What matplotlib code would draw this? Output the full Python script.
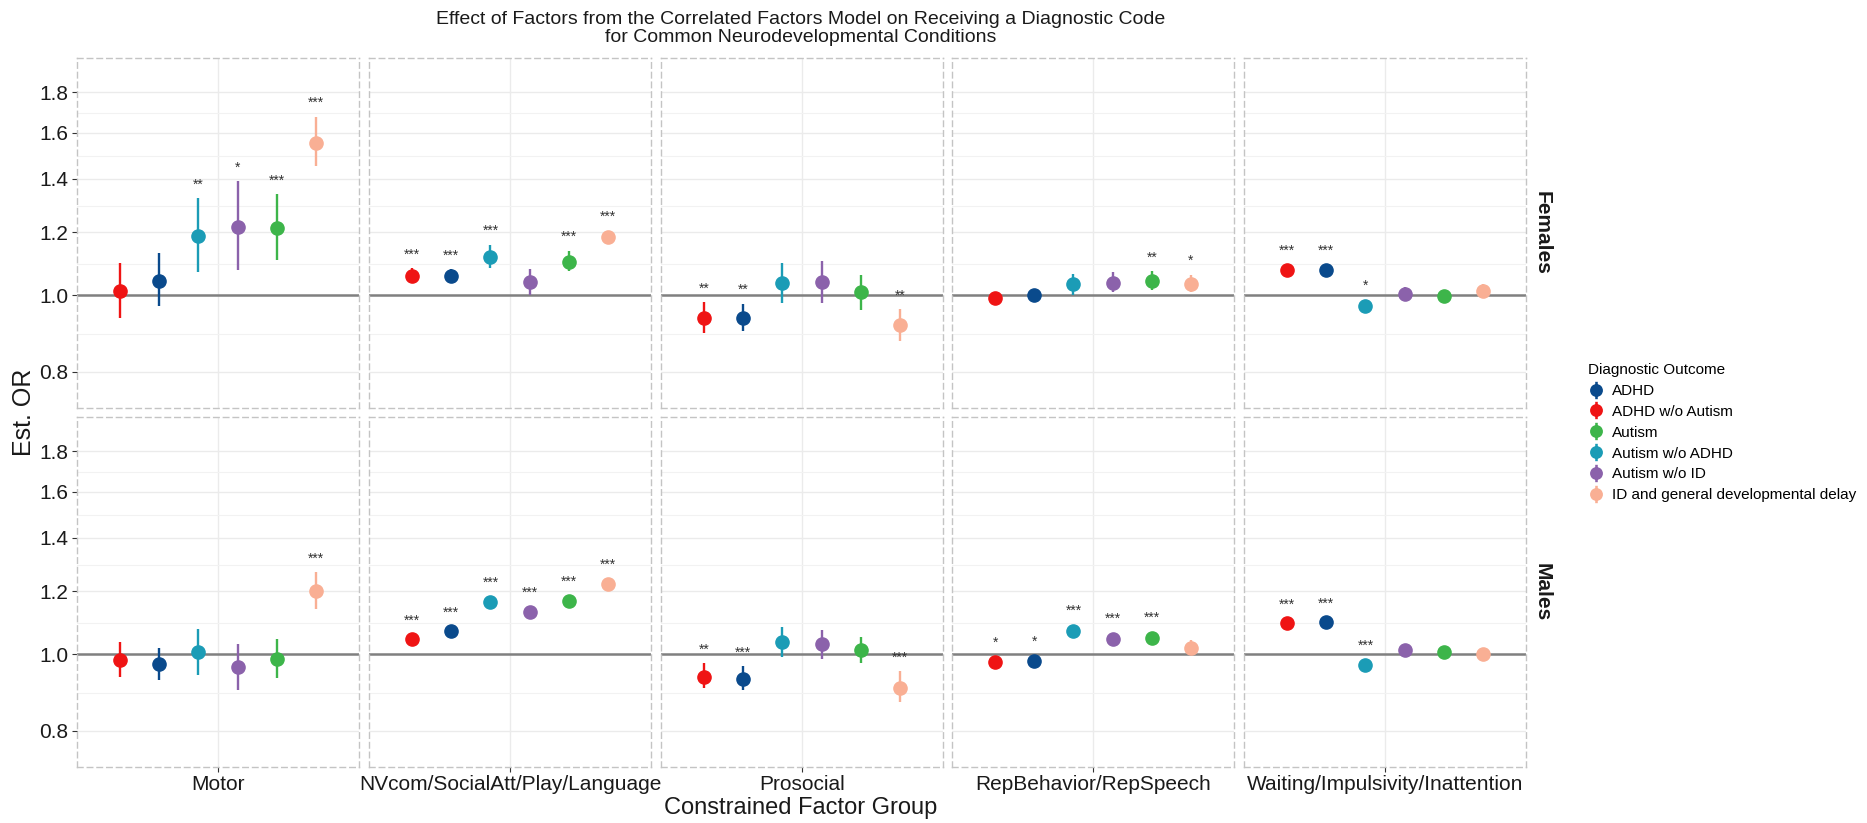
import matplotlib
matplotlib.use('Agg')
import matplotlib.pyplot as plt
from matplotlib.lines import Line2D
from matplotlib.path import Path
from matplotlib.ticker import NullFormatter
import numpy as np

plt.rcParams['font.family'] = ['Liberation Sans', 'DejaVu Sans']

# ---------------- data ----------------
factors = ['Motor', 'NVcom/SocialAtt/Play/Language', 'Prosocial',
           'RepBehavior/RepSpeech', 'Waiting/Impulsivity/Inattention']
sexes = ['Females', 'Males']
outcomes = ['ADHD', 'ADHD w/o Autism', 'Autism', 'Autism w/o ADHD',
            'Autism w/o ID', 'ID and general developmental delay']
# order in which the outcomes are dodged inside every panel
dodge_order = ['ADHD w/o Autism', 'ADHD', 'Autism w/o ADHD', 'Autism w/o ID',
               'Autism', 'ID and general developmental delay']

# rows = factors, columns = outcomes in dodge_order
females_est = [[1.011, 1.043, 1.187, 1.219, 1.216, 1.556],
               [1.056, 1.056, 1.117, 1.037, 1.100, 1.184],
               [0.936, 0.936, 1.034, 1.037, 1.008, 0.918],
               [0.990, 1.000, 1.032, 1.035, 1.043, 1.032],
               [1.074, 1.074, 0.968, 1.002, 0.996, 1.011]]
females_lo = [[0.936, 0.970, 1.068, 1.074, 1.107, 1.455],
              [1.038, 1.040, 1.081, 1.000, 1.071, 1.165],
              [0.896, 0.900, 0.977, 0.977, 0.957, 0.875],
              [0.975, 0.986, 1.000, 1.008, 1.015, 1.008],
              [1.058, 1.058, 0.950, 0.982, 0.982, 0.992]]
females_hi = [[1.097, 1.129, 1.323, 1.391, 1.340, 1.676],
              [1.080, 1.078, 1.157, 1.078, 1.137, 1.205],
              [0.979, 0.975, 1.097, 1.104, 1.060, 0.960],
              [1.006, 1.014, 1.064, 1.068, 1.071, 1.060],
              [1.092, 1.092, 0.987, 1.024, 1.011, 1.031]]
females_sig = [['', '', '**', '*', '***', '***'],
               ['***', '***', '***', '', '***', '***'],
               ['**', '**', '', '', '', '**'],
               ['', '', '', '', '**', '*'],
               ['***', '***', '*', '', '', '']]

males_est = [[0.982, 0.971, 1.006, 0.963, 0.986, 1.199],
             [1.044, 1.069, 1.162, 1.128, 1.167, 1.224],
             [0.936, 0.931, 1.034, 1.029, 1.011, 0.906],
             [0.978, 0.981, 1.070, 1.044, 1.047, 1.017],
             [1.094, 1.097, 0.970, 1.011, 1.006, 1.000]]
males_lo = [[0.935, 0.927, 0.942, 0.900, 0.932, 1.139],
            [1.030, 1.055, 1.145, 1.110, 1.150, 1.205],
            [0.906, 0.902, 0.991, 0.986, 0.974, 0.869],
            [0.965, 0.967, 1.053, 1.029, 1.030, 0.998],
            [1.080, 1.083, 0.955, 0.995, 0.992, 0.985]]
males_hi = [[1.035, 1.017, 1.075, 1.029, 1.044, 1.268],
            [1.059, 1.084, 1.180, 1.148, 1.185, 1.244],
            [0.974, 0.965, 1.083, 1.073, 1.050, 0.951],
            [0.993, 0.995, 1.089, 1.063, 1.066, 1.042],
            [1.108, 1.111, 0.984, 1.027, 1.020, 1.014]]
males_sig = [['', '', '', '', '', '***'],
             ['***', '***', '***', '***', '***', '***'],
             ['**', '***', '', '', '', '***'],
             ['*', '*', '***', '***', '***', ''],
             ['***', '***', '***', '', '', '']]

y_breaks = [0.8, 1.0, 1.2, 1.4, 1.6, 1.8]
y_labels = ['0.8', '1.0', '1.2', '1.4', '1.6', '1.8']

colors = {'ADHD': '#0A4A8C',
          'ADHD w/o Autism': '#EF1414',
          'Autism': '#3DB54A',
          'Autism w/o ADHD': '#1B9CB6',
          'Autism w/o ID': '#8B62AB',
          'ID and general developmental delay': '#F9AF94'}

data = {'Females': (females_est, females_lo, females_hi, females_sig),
        'Males': (males_est, males_lo, males_hi, males_sig)}

# ---------------- layout ----------------
W, H = 1867, 823
fig = plt.figure(figsize=(W / 100, H / 100), dpi=100)

col_left = [77, 369, 661, 952, 1244]
pw = 282
row_top = [57.7, 416.7]
ph = 350

minor_breaks = [np.sqrt(a * b) for a, b in zip(y_breaks[:-1], y_breaks[1:])]
n = len(dodge_order)

for r, sex in enumerate(sexes):
    est, lo, hi, sig = data[sex]
    for c, fac in enumerate(factors):
        ax = fig.add_axes([col_left[c] / W, 1 - (row_top[r] + ph) / H, pw / W, ph / H])
        ax.set_yscale('log')
        ax.set_xlim(0.4, 1.6)
        ax.set_ylim(0.7213, 1.99)
        ax.set_axisbelow(True)
        ax.axhline(1.0, color='#808080', lw=1.8, zorder=2)
        for i, oc in enumerate(dodge_order):
            x = 1 + (i - (n - 1) / 2) / n
            col = colors[oc]
            ax.vlines(x, lo[c][i], hi[c][i], color=col, lw=1.7, zorder=3)
            ax.plot([x], [est[c][i]], 'o', ms=9.5, color=col, zorder=4)
            if sig[c][i]:
                ax.annotate(sig[c][i], (x, hi[c][i]), xytext=(0, 7),
                            textcoords='offset points', ha='center',
                            va='baseline', fontsize=10, color='#333333')
        ax.set_yticks(y_breaks)
        ax.set_yticklabels(y_labels)
        ax.set_yticks(minor_breaks, minor=True)
        ax.yaxis.set_minor_formatter(NullFormatter())
        ax.set_xticks([1])
        ax.set_xticklabels([fac])
        ax.grid(which='major', color='#EBEBEB', lw=1.0)
        ax.grid(which='minor', axis='y', color='#F2F2F2', lw=0.8)
        for s in ax.spines.values():
            s.set_linestyle((0, (4, 3)))
            s.set_color('#C4C4C4')
            s.set_linewidth(1.0)
        ax.tick_params(which='minor', length=0)
        ax.tick_params(which='major', length=3.5, width=0.8, color='#333333',
                       labelsize=15, labelcolor='#1a1a1a', pad=2.5)
        if c != 0:
            ax.tick_params(axis='y', which='both', left=False, labelleft=False)
        if r == 0:
            ax.tick_params(axis='x', which='both', bottom=False, labelbottom=False)
    fig.text(1542 / W, 1 - (row_top[r] + ph / 2) / H, sex, rotation=-90,
             ha='center', va='center', fontsize=15, fontweight='bold', color='#1a1a1a')

fig.text(801 / W, 1 - 28.5 / H,
         'Effect of Factors from the Correlated Factors Model on Receiving a Diagnostic Code\n'
         'for Common Neurodevelopmental Conditions',
         ha='center', va='center', fontsize=14, linespacing=1.08, color='#1a1a1a')
fig.text(801 / W, 1 - 808 / H, 'Constrained Factor Group', ha='center', va='center',
         fontsize=17, color='#1a1a1a')
fig.text(24 / W, 1 - 412 / H, 'Est. OR', ha='center', va='center', rotation=90,
         fontsize=18, color='#1a1a1a')

# pointrange-like legend key: a dot with a vertical line through it
circ = Path.unit_circle()
hw, hh = 0.2, 1.35
rect = Path([(-hw, -hh), (hw, -hh), (hw, hh), (-hw, hh), (-hw, -hh)],
            [Path.MOVETO, Path.LINETO, Path.LINETO, Path.LINETO, Path.CLOSEPOLY])
key_path = Path.make_compound_path(circ, rect)

handles = [Line2D([], [], marker=key_path, ms=12.5, mew=0, color=colors[oc], ls='none')
           for oc in outcomes]
leg = fig.legend(handles, outcomes,
                 loc='upper left', bbox_to_anchor=(1588 / W, 1 - 363 / H),
                 frameon=False, fontsize=11, title='Diagnostic Outcome',
                 title_fontsize=11, alignment='left', handlelength=1.0,
                 handletextpad=0.6, labelspacing=0.45, borderaxespad=0, borderpad=0)

fig.savefig('out.png', dpi=100)
